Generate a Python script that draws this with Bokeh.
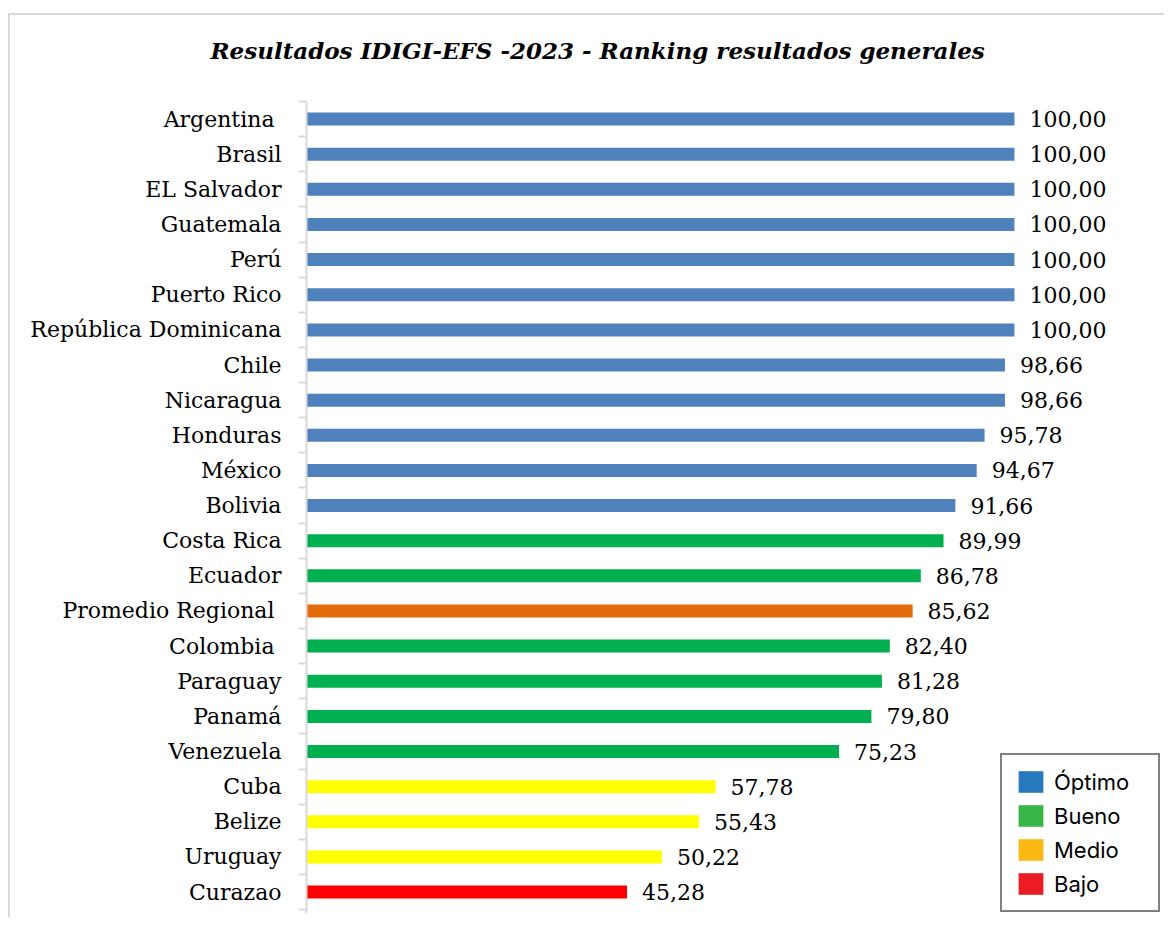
import numpy as np
from bokeh.plotting import figure
from bokeh.models import (ColumnDataSource, Range1d, FixedTicker, Legend, LegendItem, Title)
from bokeh.transform import factor_cmap
from bokeh.core.properties import value
from bokeh.embed import file_html
from bokeh.resources import INLINE

countries = ["Argentina ", "Brasil", "EL Salvador", "Guatemala", "Perú", "Puerto Rico",
             "República Dominicana", "Chile", "Nicaragua", "Honduras", "México", "Bolivia",
             "Costa Rica", "Ecuador", "Promedio Regional ", "Colombia ", "Paraguay", "Panamá",
             "Venezuela", "Cuba", "Belize", "Uruguay", "Curazao"]
scores = [100.00, 100.00, 100.00, 100.00, 100.00, 100.00, 100.00, 98.66, 98.66, 95.78,
          94.67, 91.66, 89.99, 86.78, 85.62, 82.40, 81.28, 79.80, 75.23, 57.78, 55.43,
          50.22, 45.28]
levels = ["Óptimo"] * 12 + ["Bueno", "Bueno", "Promedio", "Bueno", "Bueno", "Bueno", "Bueno",
                            "Medio", "Medio", "Medio", "Bajo"]

level_names = ["Óptimo", "Bueno", "Promedio", "Medio", "Bajo"]
bar_colors = ["#4f81bd", "#00b050", "#e46c0a", "#ffff00", "#ff0000"]
legend_names = ["Óptimo", "Bueno", "Medio", "Bajo"]
legend_colors = ["#2878bd", "#3ab54a", "#fdb913", "#ed1c24"]
title_text = "Resultados IDIGI-EFS -2023 - Ranking resultados generales"

n = len(countries)
ypos = np.arange(n) + 0.5
src = ColumnDataSource(dict(
    y=ypos, v=scores, lvl=levels,
    lab=[f"{s:.2f}".replace(".", ",") for s in scores],
))

SERIF = "DejaVu Serif"

p = figure(width=1156, height=904, output_backend="svg", toolbar_location=None,
           x_range=Range1d(0, 121.2), y_range=Range1d(n + 0.11, 0),
           x_axis_location=None, min_border_left=296, min_border_top=86,
           min_border_bottom=6, min_border_right=2, title=title_text)
p.styles = {"border-top": "2px solid #d9d9d9", "border-left": "2px solid #d9d9d9",
            "margin-top": "13px", "margin-left": "8px"}
p.outline_line_color = None
p.xgrid.visible = False
p.ygrid.visible = False

p.title.align = "left"
p.title.offset = -96
p.title.standoff = 10
p.title.text_font = SERIF
p.title.text_font_style = "bold italic"
p.title.text_font_size = "23px"
p.title.text_color = "black"

# spacer between the title and the plot area
p.add_layout(Title(text=" ", text_font_size="1px", standoff=30), "above")

p.hbar(y="y", right="v", left=0, height=0.37, source=src, line_color=None,
       fill_color=factor_cmap("lvl", palette=bar_colors, factors=level_names))

p.text(x="v", y="y", text="lab", source=src, x_offset=15, text_baseline="middle",
       text_align="left", text_font=value(SERIF), text_font_size="22px", text_color="black")

ax = p.yaxis[0]
ax.ticker = FixedTicker(ticks=list(ypos), minor_ticks=list(np.arange(n + 1)))
ax.major_label_overrides = {float(y): c for y, c in zip(ypos, countries)}
ax.major_tick_line_color = None
ax.major_tick_out = 0
ax.major_tick_in = 0
ax.minor_tick_line_color = "#d9d9d9"
ax.minor_tick_line_width = 2
ax.minor_tick_out = 8
ax.minor_tick_in = 0
ax.axis_line_color = "#d9d9d9"
ax.axis_line_width = 2
ax.major_label_standoff = 17
ax.major_label_text_font = SERIF
ax.major_label_text_font_size = "22px"
ax.major_label_text_color = "black"

items = []
for name, col in zip(legend_names, legend_colors):
    r = p.quad(left=[np.nan], right=[np.nan], top=[np.nan], bottom=[np.nan],
               fill_color=col, line_color=None)
    items.append(LegendItem(label=name, renderers=[r]))
leg = Legend(items=items, location=(694, 1), margin=0, padding=13,
             glyph_width=31, glyph_height=27, label_height=27, label_width=91,
             label_standoff=8, spacing=7,
             border_line_color="black", border_line_width=2,
             label_text_font="Inter", label_text_font_size="22px",
             label_text_color="black", background_fill_alpha=1)
p.add_layout(leg, "center")

open("out.html", "w").write(file_html(p, INLINE))
